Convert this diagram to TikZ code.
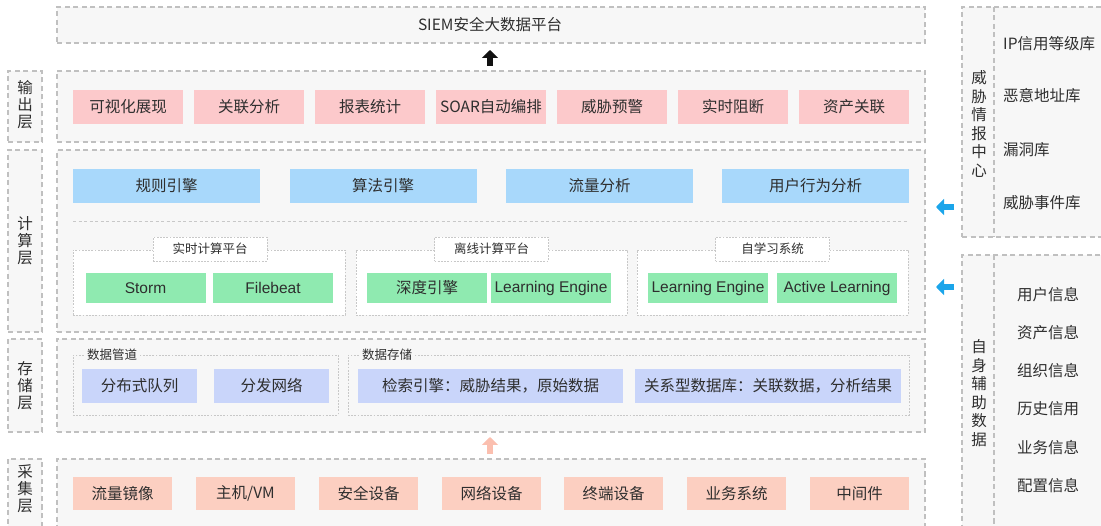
\documentclass[tikz,border=0pt]{standalone}
\usepackage{fontspec}
\setmainfont{Noto Sans CJK SC}
\newfontfamily\en{Liberation Sans}
\usetikzlibrary{arrows.meta}
\definecolor{bordergray}{HTML}{C0C0C0}
\definecolor{subgray}{HTML}{C8C8C8}
\definecolor{bgray}{HTML}{F7F7F7}
\definecolor{outpink}{HTML}{FCC9CB}
\definecolor{cblue}{HTML}{A8D8FB}
\definecolor{cgreen}{HTML}{8FEAB0}
\definecolor{slav}{HTML}{C9D5FA}
\definecolor{csalmon}{HTML}{FCCFC1}
\definecolor{txt}{HTML}{2E2E2E}
\definecolor{arrblue}{HTML}{1BA5EA}
\definecolor{arrpink}{HTML}{FBBFAF}
\definecolor{arrblack}{HTML}{111111}
\begin{document}
\begin{tikzpicture}[x=1pt,y=-1pt,
  every node/.style={text=txt, inner sep=0pt},
  layer/.style={rectangle, draw=bordergray, fill=bgray, line width=1.1pt, dash pattern=on 5pt off 3.5pt},
  subbox/.style={rectangle, draw=subgray, fill=white, line width=0.6pt, dash pattern=on 1.8pt off 1.4pt},
  cell/.style={rectangle, font=\fontsize{15.5}{18}\selectfont},
  outc/.style={cell, fill=outpink, minimum width=110pt, minimum height=34pt},
  cmpc/.style={cell, fill=cblue, minimum width=187pt, minimum height=34pt},
  grn/.style={cell, fill=cgreen, minimum width=120pt, minimum height=30pt, font=\en\fontsize{15.5}{18}\selectfont},
  grncn/.style={cell, fill=cgreen, minimum width=120pt, minimum height=30pt},
  stc/.style={cell, fill=slav, minimum height=34pt},
  colc/.style={cell, fill=csalmon, minimum width=99pt, minimum height=33pt},
  tag/.style={subbox, minimum width=114pt, minimum height=24pt, font=\fontsize{12.5}{14}\selectfont},
  grouplabel/.style={anchor=west, fill=bgray, inner xsep=2pt, inner ysep=1pt, font=\fontsize{12.5}{14}\selectfont},
  vlabel/.style={align=center, font=\fontsize{15.5}{17}\selectfont},
  rvlabel/.style={align=center, font=\fontsize{15.5}{18.5}\selectfont},
  item/.style={font=\fontsize{15.5}{18}\selectfont},
  fatarrow/.style={line width=6pt, -{Triangle[width=16pt,length=8pt]}}
]
\useasboundingbox (0,0) rectangle (1101,526);

% ---- top platform
\node[layer, minimum width=868pt, minimum height=36pt] (siem) at (491,25) {};
\node[font=\fontsize{15.5}{18}\selectfont] (siemt) at (490,25) {SIEM安全大数据平台};

% ---- layer frames
\node[layer, minimum width=868pt, minimum height=71pt] (outL) at (491,106.5) {};
\node[layer, minimum width=34pt, minimum height=71pt] (outT) at (25,106.5) {};
\node[vlabel] (outTx) at (25,105) {输\\出\\层};

\node[layer, minimum width=868pt, minimum height=182pt] (cmpL) at (491,241) {};
\node[layer, minimum width=34pt, minimum height=182pt] (cmpT) at (25,241) {};
\node[vlabel] (cmpTx) at (25,241) {计\\算\\层};

\node[layer, minimum width=868pt, minimum height=93pt] (stoL) at (491,385.5) {};
\node[layer, minimum width=34pt, minimum height=93pt] (stoT) at (25,385.5) {};
\node[vlabel] (stoTx) at (25,385.5) {存\\储\\层};

\node[layer, minimum width=868pt, minimum height=76pt] (colL) at (491,497) {};
\node[layer, minimum width=34pt, minimum height=76pt] (colT) at (25,497) {};
\node[vlabel] (colTx) at (25,489) {采\\集\\层};

% ---- output layer
\node[outc] (o1) at (128,107) {可视化展现};
\node[outc] (o2) at (249,107) {关联分析};
\node[outc] (o3) at (370,107) {报表统计};
\node[outc] (o4) at (491,107) {SOAR自动编排};
\node[outc] (o5) at (612,107) {威胁预警};
\node[outc] (o6) at (733,107) {实时阻断};
\node[outc] (o7) at (854,107) {资产关联};

% ---- compute layer
\node[cmpc] (c1) at (166.5,186) {规则引擎};
\node[cmpc] (c2) at (383,186) {算法引擎};
\node[cmpc] (c3) at (599.5,186) {流量分析};
\node[cmpc] (c4) at (815.5,186) {用户行为分析};
\coordinate (sepL) at (73,221.5);
\coordinate (sepR) at (908,221.5);
\draw[draw=subgray, line width=0.8pt, dash pattern=on 3pt off 2.5pt] (sepL) -- (sepR);

\node[subbox, minimum width=272pt, minimum height=65pt] (rt) at (209,282.5) {};
\node[subbox, minimum width=271pt, minimum height=65pt] (off) at (491.5,282.5) {};
\node[subbox, minimum width=271pt, minimum height=65pt] (self) at (772.5,282.5) {};
\node[tag] (rtT) at (210,249) {实时计算平台};
\node[tag] (offT) at (491.5,249) {离线计算平台};
\node[tag] (selfT) at (772.5,249) {自学习系统};

\node[grn] (g1) at (145.5,288) {Storm};
\node[grn] (g2) at (273,288) {Filebeat};
\node[grncn] (g3) at (427,288) {深度引擎};
\node[grn] (g4) at (551,288) {Learning Engine};
\node[grn] (g5) at (708,288) {Learning Engine};
\node[grn] (g6) at (837,288) {Active Learning};

% ---- storage layer
\node[subbox, fill=none, minimum width=265pt, minimum height=60pt] (pipe) at (205.5,385) {};
\node[subbox, fill=none, minimum width=561pt, minimum height=60pt] (store) at (628.5,385) {};
\node[grouplabel] (pipeT) at (85,355) {数据管道};
\node[grouplabel] (storeT) at (360,355) {数据存储};
\node[stc, minimum width=115pt] (s1) at (139.5,386) {分布式队列};
\node[stc, minimum width=115pt] (s2) at (271.5,386) {分发网络};
\node[stc, minimum width=265pt] (s3) at (490.5,386) {检索引擎：威胁结果，原始数据};
\node[stc, minimum width=266pt] (s4) at (768,386) {关系型数据库：关联数据，分析结果};

% ---- collection layer
\node[colc] (k1) at (122.5,493.5) {流量镜像};
\node[colc] (k2) at (245.5,493.5) {主机/VM};
\node[colc] (k3) at (368.5,493.5) {安全设备};
\node[colc] (k4) at (491.5,493.5) {网络设备};
\node[colc] (k5) at (613.5,493.5) {终端设备};
\node[colc] (k6) at (736.5,493.5) {业务系统};
\node[colc] (k7) at (859.5,493.5) {中间件};

% ---- arrows
\coordinate (ba1) at (490,66);
\coordinate (ba2) at (490,50);
\draw[fatarrow, color=arrblack] (ba1) -- (ba2);
\coordinate (pa1) at (490,454);
\coordinate (pa2) at (490,437);
\draw[fatarrow, color=arrpink] (pa1) -- (pa2);
\coordinate (la1) at (954,207);
\coordinate (la2) at (936,207);
\draw[fatarrow, color=arrblue] (la1) -- (la2);
\coordinate (lb1) at (954,287);
\coordinate (lb2) at (936,287);
\draw[fatarrow, color=arrblue] (lb1) -- (lb2);

% ---- threat intelligence center
\node[layer, minimum width=150pt, minimum height=230pt] (ti) at (1037,122) {};
\coordinate (tiD1) at (994,7);
\coordinate (tiD2) at (994,237);
\draw[draw=bordergray, line width=1.1pt, dash pattern=on 5pt off 3.5pt] (tiD1) -- (tiD2);
\node[rvlabel] (tiT) at (979,124) {威\\胁\\情\\报\\中\\心};
\node[item, anchor=west] (ti1) at (1003,44) {IP信用等级库};
\node[item, anchor=west] (ti2) at (1003,96) {恶意地址库};
\node[item, anchor=west] (ti3) at (1003,150) {漏洞库};
\node[item, anchor=west] (ti4) at (1003,203) {威胁事件库};

% ---- own auxiliary data
\node[layer, minimum width=150pt, minimum height=280pt] (aux) at (1037,395) {};
\coordinate (axD1) at (994,255);
\coordinate (axD2) at (994,535);
\draw[draw=bordergray, line width=1.1pt, dash pattern=on 5pt off 3.5pt] (axD1) -- (axD2);
\node[rvlabel] (axT) at (979,393) {自\\身\\辅\\助\\数\\据};
\node[item] (ax1) at (1048,295) {用户信息};
\node[item] (ax2) at (1048,333) {资产信息};
\node[item] (ax3) at (1048,371) {组织信息};
\node[item] (ax4) at (1048,409) {历史信用};
\node[item] (ax5) at (1048,448) {业务信息};
\node[item] (ax6) at (1048,486) {配置信息};
\end{tikzpicture}
\end{document}
